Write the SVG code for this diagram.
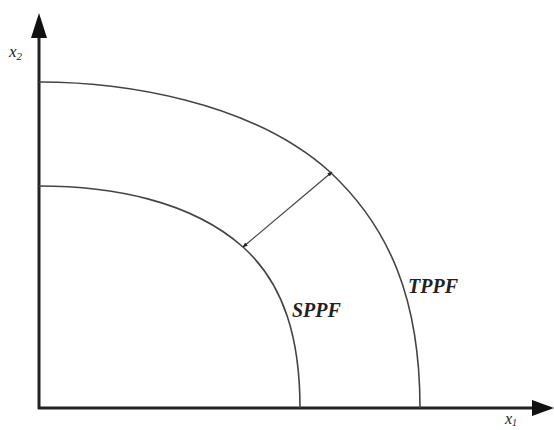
<svg xmlns="http://www.w3.org/2000/svg" width="554" height="430" viewBox="0 0 554 430">
<style>
.ax{stroke:#222;stroke-width:3;fill:none}
.cv{stroke:#444;stroke-width:1.6;fill:none}
.lbl{font-family:"Liberation Serif",serif;font-style:italic;fill:#222}
</style>
<defs>
<marker id="sm" viewBox="0 0 10 10" refX="9" refY="5" markerWidth="5" markerHeight="5" orient="auto-start-reverse" markerUnits="userSpaceOnUse"><path d="M0,1 L10,5 L0,9 z" fill="#222"/></marker>
</defs>
<rect width="554" height="430" fill="#fff"/>
<g id="axes">
<path class="ax" d="M39,409 L39,32 M38,408 L536,408"/>
<path d="M39,13 L31,38 L47,38 z" fill="#111"/>
<path d="M554,408 L532,400 L532,416 z" fill="#111"/>
</g>
<g id="TPPF">
<path class="cv" d="M39,82 C120,82 250,100 330,172 C390,228 420,300 420,408"/>
<text class="lbl" x="408" y="293" font-size="20" font-weight="bold">TPPF</text>
</g>
<g id="SPPF">
<path class="cv" d="M39,186 C110,186 190,200 243,247 C285,285 300,340 300,408"/>
<text class="lbl" x="292" y="317" font-size="20" font-weight="bold">SPPF</text>
</g>
<g id="connectors">
<line x1="243" y1="247" x2="332" y2="172" stroke="#444" stroke-width="1.2" marker-start="url(#sm)" marker-end="url(#sm)"/>
</g>
<g id="labels">
<text class="lbl" x="9" y="57" font-size="17">x<tspan font-size="11" dy="3">2</tspan></text>
<text class="lbl" x="505" y="424" font-size="16">x<tspan font-size="10" dy="2">1</tspan></text>
</g>
</svg>
